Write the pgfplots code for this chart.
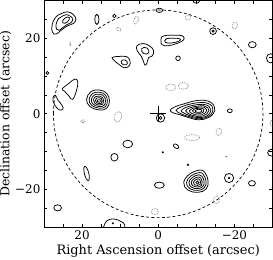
\documentclass[border=0pt]{standalone}
\usepackage{fontspec}
\setmainfont{DejaVu Serif}
\usepackage{pgfplots}
\pgfplotsset{compat=1.18}
\pgfplotsset{
 pos/.style={black, line width=0.75pt, smooth cycle, tension=0.7, no markers},
 posm/.style={black, line width=0.75pt, only marks, mark=o},
 posd/.style={black, only marks, mark=*},
 negm/.style={gray, line width=0.75pt, densely dotted, only marks, mark=o},
}
\begin{document}
\begin{tikzpicture}
\begin{axis}[
 scale only axis, width=229bp, height=227bp,
 x dir=reverse, xmin=-30, xmax=30, ymin=-30, ymax=30,
 xtick={-20,0,20}, xticklabels={−20,0,20},
 ytick={-20,0,20}, yticklabels={−20,0,20},
 minor xtick={-25,-15,-10,-5,5,10,15,25},
 minor ytick={-25,-15,-10,-5,5,10,15,25},
 tick align=inside, major tick length=3.5bp, minor tick length=3.5bp,
 tick style={black, line width=0.6pt},
 axis line style={line width=0.7pt},
 ticklabel style={font=\fontsize{12}{14}\selectfont},
 xlabel={Right Ascension offset (arcsec)},
 ylabel={Declination offset (arcsec)},
 xlabel style={font=\fontsize{13}{14}\selectfont, yshift=1.5bp},
 ylabel style={font=\fontsize{12.5}{14}\selectfont, yshift=-3bp},
 clip marker paths=true,
]
% dashed primary beam circle
\draw[dash pattern=on 3pt off 2.3pt, line width=0.7pt] (axis cs:0,0) circle [radius=27.5];
% top-left source
\addplot[pos] coordinates {(27.7,21.5) (27.9,23.3) (27.0,25.5) (25.5,26.5) (23.8,27.0) (22.3,26.3) (21.6,25.0) (22.3,23.9) (23.8,23.3) (25.5,22.1) (26.8,21.1)};
\addplot[pos] coordinates {(26.65,22.4) (26.8,23.65) (26.15,25.2) (25.1,25.9) (23.9,26.25) (22.9,25.75) (22.4,24.85) (22.9,24.1) (23.9,23.65) (25.1,22.8) (26.0,22.1)};
\addplot[posm, mark size=2.3bp, mark options={rotate=40, xscale=1.8}] coordinates {(24.2,24.8)};
% triangle and bean on the left
\addplot[pos] coordinates {(25.2,6.6) (23.5,8.0) (21.9,9.2) (21.1,8.4) (21.5,6.0) (22.5,3.8) (23.5,4.8) (24.6,6.0)};
\addplot[pos] coordinates {(27.6,4.3) (27.0,4.9) (26.3,3.6) (25.2,2.2) (25.0,1.3) (25.9,1.0) (27.1,2.2) (27.6,3.4)};
% left multi-contour source
\addplot[pos] coordinates {(17.6,5.9) (15.4,6.3) (13.5,5.4) (12.8,3.4) (13.5,1.5) (15.4,1.0) (17.9,1.9) (18.8,3.9)};
\addplot[pos] coordinates {(17.18,5.4) (15.42,5.72) (13.9,5.0) (13.34,3.4) (13.9,1.88) (15.42,1.48) (17.42,2.2) (18.14,3.8)};
\addplot[pos] coordinates {(16.8,4.95) (15.44,5.2) (14.26,4.64) (13.83,3.4) (14.26,2.22) (15.44,1.91) (16.99,2.47) (17.55,3.71)};
\addplot[pos] coordinates {(16.45,4.53) (15.45,4.71) (14.6,4.3) (14.28,3.4) (14.6,2.54) (15.45,2.32) (16.58,2.72) (16.99,3.63)};
\addplot[pos] coordinates {(16.13,4.15) (15.47,4.27) (14.9,4.0) (14.69,3.4) (14.9,2.83) (15.47,2.68) (16.22,2.95) (16.49,3.55)};
\addplot[posm, mark size=1.2bp, mark options={xscale=1.7}] coordinates {(15.5,3.4)};
% central-right source
\addplot[pos] coordinates {(-3.2,1.0) (-4.5,1.9) (-7,2.7) (-9.5,3.4) (-12,3.6) (-14,2.9) (-14.8,1.6) (-14.5,0.1) (-13,-1.1) (-10.5,-1.6) (-8,-1.0) (-5.5,-0.2) (-3.8,0.3)};
\addplot[pos] coordinates {(-4.7,0.9) (-6,1.8) (-8.5,2.6) (-11.5,3.0) (-13.6,2.5) (-14.3,1.4) (-14,0.0) (-12.5,-1.0) (-10.3,-1.3) (-8,-0.7) (-6,0.0)};
\addplot[pos] coordinates {(-6.0,0.8) (-7.3,1.7) (-9.5,2.3) (-11.8,2.5) (-13.3,2.0) (-13.8,1.1) (-13.4,0.0) (-12.2,-0.8) (-10.3,-1.0) (-8.3,-0.5) (-6.8,0.2)};
\addplot[pos] coordinates {(-7.2,0.8) (-8.4,1.6) (-10.2,2.0) (-12,2.1) (-13,1.6) (-13.3,0.9) (-12.8,0.0) (-11.7,-0.6) (-10.2,-0.7) (-8.6,-0.3)};
\addplot[pos] coordinates {(-8.2,0.8) (-9.3,1.5) (-10.8,1.8) (-12.1,1.7) (-12.7,1.1) (-12.3,0.2) (-11.3,-0.3) (-10.0,-0.3) (-8.8,0.1)};
\addplot[pos] coordinates {(-9.0,0.8) (-10.0,1.4) (-11.2,1.5) (-12.0,1.1) (-11.8,0.4) (-11.0,0.1) (-9.8,0.2)};
\addplot[pos] coordinates {(-9.7,0.8) (-10.5,1.2) (-11.3,1.1) (-11.5,0.7) (-11.0,0.4) (-10.2,0.4)};
% bottom-right source
\addplot[pos] coordinates {(-10.9,-14.9) (-8.2,-16.0) (-6.7,-18.2) (-7.8,-20.2) (-10.4,-20.8) (-12.6,-19.9) (-13.1,-17.7) (-12.2,-15.5)};
\addplot[pos] coordinates {(-10.78,-15.56) (-8.62,-16.44) (-7.42,-18.2) (-8.3,-19.8) (-10.38,-20.28) (-12.14,-19.56) (-12.54,-17.8) (-11.82,-16.04)};
\addplot[pos] coordinates {(-10.67,-16.15) (-9.0,-16.84) (-8.07,-18.2) (-8.75,-19.44) (-10.36,-19.81) (-11.73,-19.25) (-12.04,-17.89) (-11.48,-16.53)};
\addplot[pos] coordinates {(-10.57,-16.71) (-9.35,-17.21) (-8.68,-18.2) (-9.17,-19.1) (-10.35,-19.37) (-11.34,-18.97) (-11.56,-17.97) (-11.16,-16.98)};
\addplot[pos] coordinates {(-10.48,-17.21) (-9.67,-17.54) (-9.22,-18.2) (-9.55,-18.8) (-10.33,-18.98) (-10.99,-18.71) (-11.14,-18.05) (-10.87,-17.39)};
\addplot[posm, mark size=1.6bp] coordinates {(-10.3,-18.2)};
% upper middle sources
\addplot[pos] coordinates {(12.1,14.9) (10.2,15.2) (8.2,15.1) (7.4,14.0) (7.6,12.7) (8.9,12.2) (10.2,13.0) (11.4,14.0)};
\addplot[posm, mark size=2.5bp, mark options={rotate=-20, xscale=1.3}] coordinates {(8.9,13.6)};
\addplot[pos] coordinates {(5.6,18.0) (4.0,18.6) (2.3,18.0) (1.2,16.7) (1.6,15.3) (2.5,14.9) (3.0,13.3) (3.5,12.9) (3.9,14.0) (4.5,15.3) (5.5,16.7)};
\addplot[posm, mark size=3.2bp, mark options={rotate=-30, xscale=1.25}] coordinates {(3.4,16.7)};
\addplot[pos] coordinates {(-0.7,19.3) (-1.0,20.4) (-2.5,20.8) (-4.5,20.8) (-6.2,20.7) (-6.8,20.0) (-6.2,19.2) (-4.5,18.5) (-2.5,18.0) (-1.0,18.3)};
\addplot[pos] coordinates {(-1.7,19.4) (-2.2,19.9) (-4.0,20.0) (-5.5,19.9) (-5.8,19.5) (-4.8,19.0) (-2.8,18.7) (-1.9,18.9)};
% bottom partial source
\addplot[pos] coordinates {(14.0,-31) (13.9,-28.9) (12.8,-28.0) (11.3,-27.9) (9.8,-28.5) (8.8,-29.4) (9.6,-31)};
\addplot[posd, mark size=0.8bp] coordinates {(11.9,-29.0)};
% small positive contours
\addplot[posm, mark size=5.0bp, mark options={xscale=0.42}] coordinates {(16.1,25.0)};
\addplot[posm, mark size=1.7bp] coordinates {(11.5,25.9)};
\addplot[posm, mark size=2.1bp, mark options={xscale=1.6}] coordinates {(-0.3,27.4)};
\addplot[posm, mark size=2.3bp, mark options={xscale=1.4}] coordinates {(-10.0,29.9)};
\addplot[posm, mark size=3.4bp] coordinates {(-14.4,21.9)};
\addplot[posm, mark size=1.1bp] coordinates {(-14.4,21.9)};
\addplot[posm, mark size=3.1bp, mark options={xscale=1.25}] coordinates {(-24.7,18.3)};
\addplot[posm, mark size=4.6bp, mark options={xscale=0.9}] coordinates {(-29.5,14.7)};
\addplot[posm, mark size=1.5bp] coordinates {(29.1,10.8)};
\addplot[posm, mark size=2.3bp] coordinates {(-5.2,14.7)};
\addplot[posm, mark size=1.9bp, mark options={xscale=1.3}] coordinates {(-18.8,0.8)};
\addplot[posm, mark size=4.2bp] coordinates {(-0.6,-1.1)};
\addplot[posm, mark size=1.5bp] coordinates {(-0.6,-1.1)};
\addplot[posm, mark size=3.8bp, mark options={xscale=1.3}] coordinates {(8.0,-8.0)};
\addplot[posm, mark size=1.9bp, mark options={rotate=-35, xscale=1.6}] coordinates {(-4.7,-8.6)};
\addplot[posd, mark size=0.8bp] coordinates {(-1.2,-10.2)};
\addplot[posm, mark size=3.8bp, mark options={xscale=0.95}] coordinates {(11.5,-11.5)};
\addplot[posd, mark size=0.9bp] coordinates {(-7.8,-13.5)};
\addplot[posm, mark size=7.3bp, mark options={rotate=14, xscale=0.3}] coordinates {(18.8,-15.8)};
\addplot[posm, mark size=4.6bp] coordinates {(-18.6,-17.0)};
\addplot[posd, mark size=0.9bp] coordinates {(-18.6,-17.0)};
\addplot[posm, mark size=2.7bp, mark options={xscale=1.3}] coordinates {(-24.6,-18.4)};
\addplot[posm, mark size=3.1bp, mark options={xscale=1.6}] coordinates {(-0.3,-18.9)};
\addplot[posm, mark size=3.1bp, mark options={xscale=1.25}] coordinates {(26.4,-24.9)};
\addplot[posm, mark size=3.4bp, mark options={xscale=1.1}] coordinates {(-29.7,-10.3)};
% negative contours
\addplot[negm, mark size=4.2bp, mark options={rotate=-20, xscale=0.55}] coordinates {(5.8,24.8)};
\addplot[negm, mark size=1.7bp, mark options={rotate=-25, xscale=1.5}] coordinates {(10.4,22.4)};
\addplot[negm, mark size=2.3bp, mark options={rotate=30, xscale=1.3}] coordinates {(-7.8,25.5)};
\addplot[negm, mark size=3.4bp, mark options={rotate=-20, xscale=0.8}] coordinates {(-20.1,23.4)};
\addplot[negm, mark size=1.9bp, mark options={xscale=0.4}] coordinates {(23.1,18.4)};
\addplot[negm, mark size=3.4bp, mark options={xscale=1.5}] coordinates {(-3.3,7.0)};
\addplot[negm, mark size=3.4bp, mark options={xscale=1.5}] coordinates {(-6.6,7.4)};
\addplot[negm, mark size=5.3bp, mark options={rotate=-15, xscale=0.72}] coordinates {(10.6,-0.8)};
\addplot[negm, mark size=1.9bp] coordinates {(19.8,-2.0)};
\addplot[negm, mark size=2.9bp, mark options={xscale=2.6}] coordinates {(-8.9,-6.3)};
\addplot[negm, mark size=3.8bp, mark options={rotate=-20, xscale=0.7}] coordinates {(-15.9,-4.8)};
\addplot[negm, mark size=3.8bp, mark options={xscale=0.8}] coordinates {(-15.3,-22.8)};
\addplot[negm, mark size=3.1bp, mark options={xscale=1.1}] coordinates {(0.9,-25.9)};
\addplot[negm, mark size=0.8bp] coordinates {(-17.9,-11.3)};
\addplot[negm, mark size=3.4bp, mark options={xscale=0.7}] coordinates {(-30,-2.5)};
% pointing centre
\addplot[black, line width=0.9pt, only marks, mark=+, mark size=8bp] coordinates {(0,0)};
\end{axis}
\pgfresetboundingbox
\path[use as bounding box] ([xshift=-44bp,yshift=-32bp]current axis.south west) rectangle ([xshift=0.5bp,yshift=0.5bp]current axis.north east);
\end{tikzpicture}
\end{document}
